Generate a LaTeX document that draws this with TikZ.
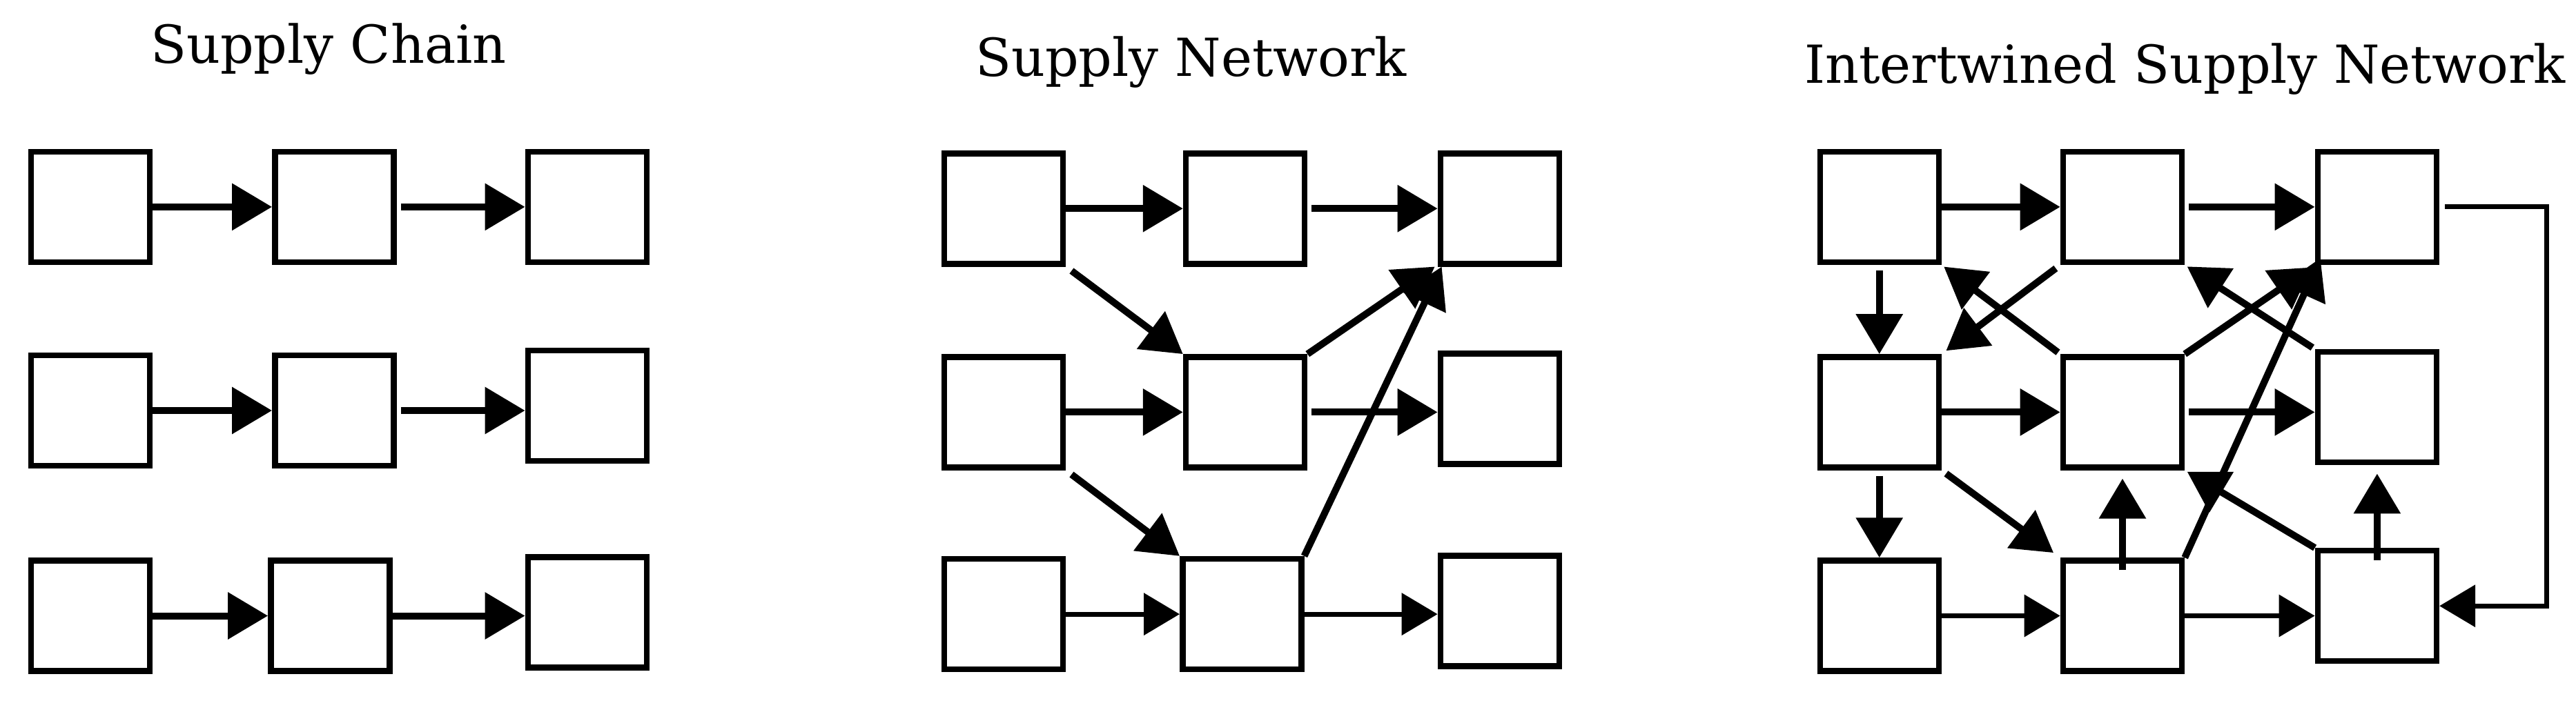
\documentclass[tikz,border=0pt]{standalone}
\usepackage{fontspec}
\setmainfont{DejaVu Serif}
\usetikzlibrary{arrows.meta}
\begin{document}
\begin{tikzpicture}[x=2.38pt,y=-2.38pt,
  box/.style={draw,line width=8.5pt,minimum width=172pt,minimum height=160pt,inner sep=0pt},
  arr/.style={line width=10pt,-{Triangle[length=58pt,width=66pt]}},
  thin arr/.style={line width=7pt,-{Triangle[length=52pt,width=60pt]}},
  ttl/.style={font=\fontsize{76}{86}\selectfont}]
\useasboundingbox (0,0) rectangle (1568.07,426.89);
\node[ttl] (t1) at (200,30) {Supply Chain};
\node[ttl] (t2) at (725,38) {Supply Network};
\node[ttl] (t3) at (1330,42) {Intertwined Supply Network};
% panel 1
\node[box] (a11) at (55,126) {};
\node[box] (a12) at (203.5,126) {};
\node[box] (a13) at (357.5,126) {};
\node[box] (a21) at (55,250) {};
\node[box] (a22) at (203.5,250) {};
\node[box] (a23) at (357.5,247) {};
\node[box] (a31) at (55,375) {};
\node[box] (a32) at (201,375) {};
\node[box] (a33) at (357.5,373) {};
\draw[arr] (a11) -- (a12); \draw[arr,shorten <=6pt] (a12) -- (a13);
\draw[arr] (a21) -- (a22); \draw[arr,shorten <=6pt] (a22.east) -- (a22.east -| a23.west);
\draw[arr] (a31) -- (a32); \draw[arr] (a32.east) -- (a32.east -| a33.west);
% panel 2
\node[box] (b11) at (611,127) {};
\node[box] (b12) at (758,127) {};
\node[box] (b13) at (913,127) {};
\node[box] (b21) at (611,251) {};
\node[box] (b22) at (758,251) {};
\node[box] (b23) at (913,249) {};
\node[box] (b31) at (611,374) {};
\node[box] (b32) at (756,374) {};
\node[box] (b33) at (913,372) {};
\draw[arr] (b11) -- (b12); \draw[arr,shorten <=6pt] (b12) -- (b13);
\draw[arr] (b21) -- (b22); \draw[arr,shorten <=6pt] (b22.east) -- (b22.east -| b23.west);
\draw[thin arr] (b31) -- (b32); \draw[thin arr] (b32.east) -- (b32.east -| b33.west);
\draw[arr,shorten <=10pt] (b11.south east) -- (b22.north west);
\draw[arr,shorten <=10pt] (b21.south east) -- (b32.north west);
\draw[arr] (b22.north east) -- ([xshift=-4pt]b13.south west);
\draw[arr] (b32.north east) -- ([xshift=6pt]b13.south west);
% panel 3
\node[box] (c11) at (1144,126) {};
\node[box] (c12) at (1292,126) {};
\node[box] (c13) at (1447,126) {};
\node[box] (c21) at (1144,251) {};
\node[box] (c22) at (1292,251) {};
\node[box] (c23) at (1447,248) {};
\node[box] (c31) at (1144,375) {};
\node[box] (c32) at (1292,375) {};
\node[box] (c33) at (1447,369) {};
\coordinate (fb) at (1550,250);
\draw[arr] (c11) -- (c12); \draw[arr,shorten <=6pt] (c12) -- (c13);
\draw[arr] (c21) -- (c22); \draw[arr,shorten <=6pt] (c22.east) -- (c22.east -| c23.west);
\draw[thin arr] (c31) -- (c32); \draw[thin arr] (c32.east) -- (c32.east -| c33.west);
\draw[arr,shorten <=8pt] (c11.south) -- (c21.north);
\draw[arr,shorten <=8pt] (c21.south) -- (c31.north);
\draw[arr,shorten <=8pt,shorten >=8pt] (c12.south west) -- (c21.north east);
\draw[arr,shorten <=4pt,shorten >=4pt] (c22.north west) -- (c11.south east);
\draw[arr,shorten <=4pt,shorten >=4pt] (c23.north west) -- (c12.south east);
\draw[arr,shorten >=6pt] (c22.north east) -- (c13.south west);
\draw[arr] (c32.north east) -- ([xshift=8pt,yshift=10pt]c13.south west);
\draw[arr,shorten <=8pt,shorten >=12pt] (c21.south east) -- (c32.north west);
\draw[arr,shorten >=4pt] (c33.north west) -- (c22.south east);
\draw[arr,shorten >=12pt] ([yshift=-18pt]c32.north) -- (c22.south);
\draw[arr,shorten >=12pt] ([yshift=-18pt]c33.north) -- (c23.south);
\draw[thin arr,shorten <=8pt] (c13.east) -- (c13.east -| fb) -- (c33.east -| fb) -- (c33.east);
\end{tikzpicture}
\end{document}
